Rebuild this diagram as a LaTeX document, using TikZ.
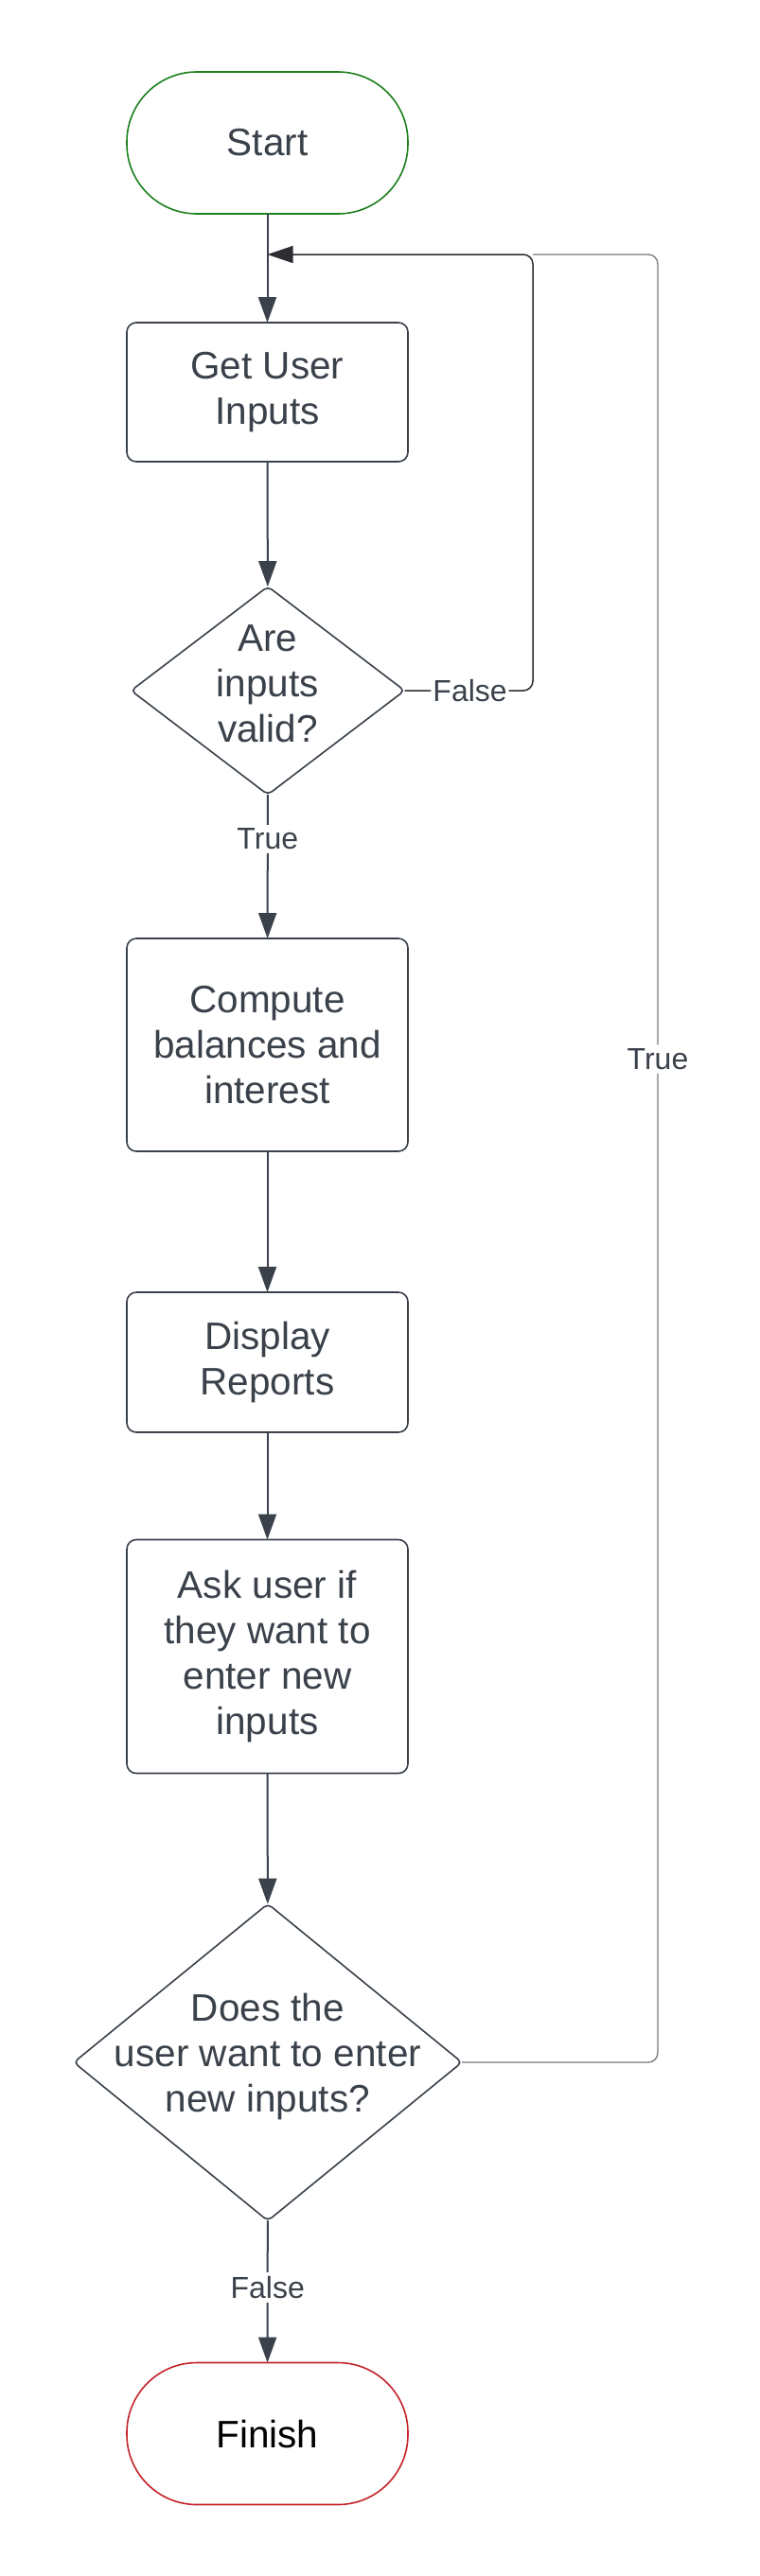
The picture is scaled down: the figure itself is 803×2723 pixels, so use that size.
\documentclass[tikz,border=0pt]{standalone}
\usepackage{fontspec}
\setmainfont{Liberation Sans}
\usetikzlibrary{arrows.meta,shapes.geometric}
\definecolor{ink}{RGB}{58,65,74}
\definecolor{startgreen}{RGB}{30,128,30}
\definecolor{finishred}{RGB}{196,36,42}
\definecolor{loopgray}{RGB}{120,120,120}
\definecolor{loopdark}{RGB}{45,45,50}
\begin{document}
\begin{tikzpicture}[x=1pt,y=-1pt,
  every node/.style={font=\fontsize{40.5}{48}\selectfont, text=ink, align=center, inner sep=0pt, outer sep=0pt},
  term/.style={draw, rectangle, rounded corners=74pt, line width=1.6pt, minimum width=297pt, minimum height=150pt},
  proc/.style={draw=ink, rectangle, rounded corners=10pt, line width=1.6pt, minimum width=297pt},
  dec/.style={draw=ink, diamond, rounded corners=5pt, line width=1.6pt},
  lbl/.style={font=\fontsize{32}{38}\selectfont, fill=white, inner sep=4pt},
  flow/.style={draw=ink, line width=2pt, -{Triangle[length=27pt,width=19pt]}},
  loopT/.style={draw=loopgray, line width=1.3pt, rounded corners=10pt},
  loopF/.style={draw=loopdark, line width=1.5pt, rounded corners=10pt, -{Triangle[length=27pt,width=18pt]}}
]
\fill[white] (0,0) rectangle (803,2723);
\useasboundingbox (0,0) rectangle (803,2723);

\node[term, draw=startgreen] (start) at (282.5,151) {Start};
\node[proc, minimum height=147pt] (gui) at (282.5,414.5) {Get User\\Inputs};
\node[dec, minimum width=289pt, minimum height=220pt] (valid) at (283,730) {};
\node (validt) at (283,723) {Are\\inputs\\valid?};
\node[proc, minimum height=225pt] (compute) at (282.5,1104.5) {Compute\\balances and\\interest};
\node[proc, minimum height=148pt] (display) at (282.5,1440) {Display\\Reports};
\node[proc, minimum height=247pt] (ask) at (282.5,1751) {Ask user if\\they want to\\enter new\\inputs};
\node[dec, minimum width=410pt, minimum height=335pt] (again) at (283,2180) {};
\node (againt) at (283,2174) {Does the\\user want to enter\\new inputs?};
\node[term, draw=finishred, text=black] (finish) at (282.5,2572.5) {Finish};

\coordinate (j) at (282.5,269);
\coordinate (c1) at (563,730);
\coordinate (c2) at (563,269);
\coordinate (c3) at (695,2180);
\coordinate (c4) at (695,269);

\draw[flow] (start) -- (gui);
\draw[flow] (gui) -- (valid);
\draw[flow] (valid) -- node[lbl, pos=0.31] (t1) {True} (compute);
\draw[flow] (compute) -- (display);
\draw[flow] (display) -- (ask);
\draw[flow] (ask) -- (again);
\draw[flow] (again) -- node[lbl, pos=0.47] (f2) {False} (finish);

\draw[loopT] (again.east) -- (c3) -- node[lbl, pos=0.555] (t2) {True} (c4) -- (c2);
\draw[loopF] (valid.east) -- node[lbl, pos=0.51, inner xsep=2pt] (f1) {False} (c1) -- (c2) -- (j);
\end{tikzpicture}
\end{document}
